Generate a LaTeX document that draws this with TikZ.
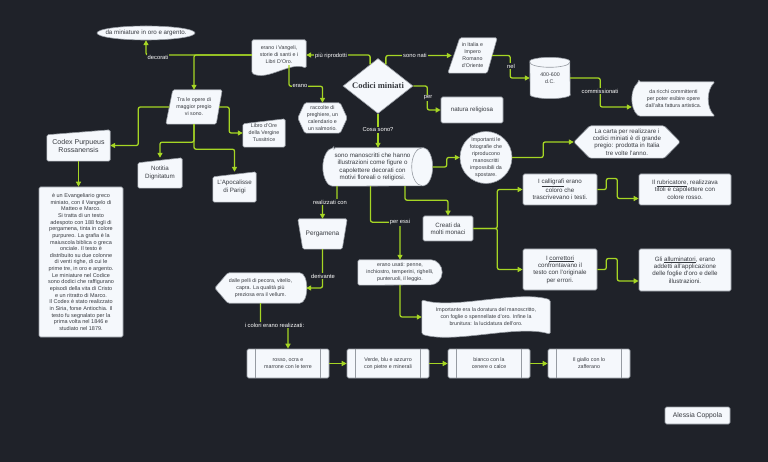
\documentclass[tikz,border=0pt]{standalone}
\usepackage{fontspec}
\setmainfont{Liberation Sans}
\newfontfamily\headfont{Liberation Serif}
\usetikzlibrary{arrows.meta,calc,shapes.geometric}
\definecolor{board}{RGB}{31,34,41}
\definecolor{paper}{RGB}{245,248,252}
\definecolor{rim}{RGB}{150,155,162}
\definecolor{ink}{RGB}{55,58,64}
\definecolor{wire}{RGB}{166,214,36}
\newcommand\boxfont{\fontsize{5.3}{7}\selectfont}
\newcommand\tagfont{\fontsize{5.8}{7}\selectfont}
\newcommand\namefont{\fontsize{6.2}{7.4}\selectfont}
\pgfdeclarelayer{bg}
\pgfdeclarelayer{shp}
\pgfsetlayers{bg,shp,main}
\tikzset{
  box/.style={draw=rim, fill=paper, rounded corners=1.5pt, line width=0.6pt,
              text=ink, font=\boxfont, align=center, inner sep=1pt},
  bare/.style={inner sep=0pt, text=ink, font=\boxfont, align=center},
  plate/.style={draw=rim, fill=paper, line width=0.6pt, rounded corners=1.5pt},
  flow/.style={-{Triangle[length=5pt,width=5pt]}, wire, line width=1.3pt, rounded corners=2pt},
  tag/.style={fill=board, text=white, inner sep=1pt, font=\tagfont},
}

\begin{document}
\begin{tikzpicture}[x=1pt,y=-1pt]
\useasboundingbox (0,0) rectangle (768,462);
\begin{pgfonlayer}{bg}
  \fill[board] (0,0) rectangle (768,462);
\end{pgfonlayer}

% centre and top row
\node[diamond, draw=rim, fill=paper, line width=0.6pt, aspect=1.3, minimum width=70pt,
      minimum height=55pt, inner sep=0pt, text=ink,
      font=\headfont\bfseries\fontsize{8.5}{10}\selectfont] (codici) at (378,86) {Codici miniati};
\node[bare, minimum width=98pt, minimum height=14pt, font=\namefont] (gold) at (146,33) {da miniature in oro e argento.};
\node[bare, minimum width=54pt, minimum height=30pt] (erano) at (279,55) {erano i Vangeli,\\ storie di santi e i\\ Libri D'Oro.};
\node[bare, minimum width=49pt, minimum height=30pt] (racc) at (322.5,118) {raccolte di\\ preghiere, un\\ calendario e\\ un salmorio.};
\node[bare, minimum width=49pt, minimum height=35pt] (italia) at (472.5,55.5) {in Italia e\\ Impero\\ Romano\\ d'Oriente};
\node[box, minimum width=62pt, minimum height=26pt, font=\namefont] (natura) at (472,110) {natura religiosa};
\node[bare, minimum width=40pt, minimum height=41pt] (cyl) at (550,78) {400-600\\ d.C.};
\node[bare, minimum width=83pt, minimum height=34pt] (ricchi) at (673.5,99) {da ricchi committenti\\ per poter esibire opere\\ dall'alta fattura artistica.};
\node[bare, minimum width=106pt, minimum height=32pt, font=\namefont] (carta) at (627,142) {La carta per realizzare i\\ codici miniati è di grande\\ pregio: prodotta in Italia\\ tre volte l'anno.};
\node[bare, minimum size=52pt] (foto) at (486,157.5) {Importanti le\\ fotografie che\\ riproducono\\ manoscritti\\ impossibili da\\ spostare.};
\node[bare, minimum width=99pt, minimum height=38pt, font=\namefont] (mano) at (372.5,167) {sono manoscritti che hanno\\ illustrazioni come figure o\\ capolettere decorati con\\ motivi floreali o religiosi.};

% left branch
\node[bare, minimum width=56pt, minimum height=34pt] (trale) at (194,107) {Tra le opere di\\ maggior pregio\\ vi sono.};
\node[bare, minimum width=63pt, minimum height=31pt, font=\fontsize{7}{8}\selectfont] (codex) at (78.5,145.5) {Codex Purpueus\\ Rossanensis};
\node[bare, minimum width=42pt, minimum height=28pt] (libro) at (264,133) {Libro d'Ore\\ della Vergine\\ Tussitrice};
\node[bare, minimum width=44pt, minimum height=30pt, font=\namefont] (notitia) at (160,173) {Notitia\\ Dignitatum};
\node[bare, minimum width=43pt, minimum height=30pt, font=\namefont] (apoc) at (234.5,187) {L'Apocalisse\\ di Parigi};
\node[box, minimum width=84pt, minimum height=150pt, font=\fontsize{5.5}{6.65}\selectfont] (desc) at (81,262)
  {è un Evangeliario greco\\ miniato, con il Vangelo di\\ Matteo e Marco.\\ Si tratta di un testo\\
   adespoto con 188 fogli di\\ pergamena, tinta in colore\\ purpureo. La grafia è la\\
   maiuscola biblica o greca\\ onciale. Il testo è\\ distribuito su due colonne\\
   di venti righe, di cui le\\ prime tre, in oro e argento.\\ Le miniature nel Codice\\
   sono dodici che raffigurano\\ episodi della vita di Cristo\\ e un ritratto di Marco.\\
   Il Codex è stato realizzato\\ in Siria, forse Antiochia. Il\\ testo fu segnalato per la\\
   prima volta nel 1846 e\\ studiato nel 1879.};

% lower part
\node[bare, minimum width=49pt, minimum height=30pt, font=\fontsize{6.5}{7.5}\selectfont] (perg) at (322.5,234) {Pergamena};
\node[bare, minimum width=91pt, minimum height=30pt] (pelli) at (260.5,288) {dalle pelli di pecora, vitello,\\ capra. La qualità più\\ preziosa era il vellum.};
\node[bare, minimum width=84pt, minimum height=25pt] (usati) at (400,272.5) {erano usati: penne,\\ inchiostro, temperini, righelli,\\ punteruoli, il leggio.};
\node[bare, minimum width=128pt, minimum height=34pt] (dor) at (486,317) {Importante era la doratura del manoscritto,\\ con foglie o spennellate d'oro. Infine la\\ brunitura: la lucidatura dell'oro.};
\node[box, minimum width=50pt, minimum height=25pt, font=\namefont] (creati) at (448,228.5) {Creati da\\ molti monaci};
\node[box, minimum width=74pt, minimum height=31pt, font=\namefont] (calli) at (560,189.5) {I \underline{calligrafi} erano\\ coloro che\\ trascrivevano i testi.};
\node[box, minimum width=92pt, minimum height=31pt, font=\namefont] (rubri) at (685,189.5) {Il \underline{rubricatore}, realizzava\\ titoli e capolettere con\\ colore rosso.};
\node[box, minimum width=74pt, minimum height=41pt, font=\namefont] (corr) at (560,269.5) {I \underline{correttori}\\ confrontavano il\\ testo con l'originale\\ per errori.};
\node[box, minimum width=92pt, minimum height=42pt, font=\namefont] (allum) at (685,270) {Gli \underline{alluminatori}, erano\\ addetti all'applicazione\\ delle foglie d'oro e delle\\ illustrazioni.};
\node[box, minimum width=82pt, minimum height=29pt] (rosso) at (288,363.5) {rosso, ocra e\\ marrone con le terre};
\node[box, minimum width=82pt, minimum height=29pt] (verde) at (388,363.5) {Verde, blu e azzurro\\ con pietre e minerali};
\node[box, minimum width=82pt, minimum height=29pt] (bianco) at (489,363.5) {bianco con la\\ cenere o calce};
\node[box, minimum width=82pt, minimum height=29pt] (giallo) at (589,363.5) {Il giallo con lo\\ zafferano};
\node[box, minimum width=65pt, minimum height=17pt, font=\fontsize{6.8}{8}\selectfont] (author) at (697.5,415.5) {Alessia Coppola};

% shapes behind the texts
\begin{pgfonlayer}{shp}
  \draw[plate] (gold.center) ellipse [x radius=49pt, y radius=7pt];
  \draw[plate] (erano.north west) -- (erano.north east) -- ($(erano.south east)+(0,-2)$)
    .. controls ($(erano.south east)+(-16,-9)$) and ($(erano.south west)+(16,11)$) .. ($(erano.south west)+(0,3)$) -- cycle;
  \foreach \n/\cut in {racc/7,carta/16}
    \draw[plate] (\n.west) -- ($(\n.north west)+(\cut,0)$) -- ($(\n.north east)+(-\cut,0)$) -- (\n.east)
      -- ($(\n.south east)+(-\cut,0)$) -- ($(\n.south west)+(\cut,0)$) -- cycle;
  \foreach \n in {codex,libro,notitia,apoc}
    \draw[plate] (\n.south west) -- (\n.south east) -- (\n.north east) -- ($(\n.north west)+(0,5)$) -- cycle;
  \draw[plate] (trale.south west) -- ($(trale.south east)+(-6,0)$) -- (trale.north east) -- ($(trale.north west)+(7,0)$) -- cycle;
  \draw[plate] (italia.south west) -- ($(italia.south east)+(-10,0)$) -- (italia.north east) -- ($(italia.north west)+(12,0)$) -- cycle;
  \draw[plate] (perg.north west) -- (perg.north east) -- ($(perg.south east)+(-5,0)$) -- ($(perg.south west)+(5,0)$) -- cycle;
  \draw[plate] ($(cyl.north west)+(0,5)$) arc[start angle=180, end angle=0, x radius=20pt, y radius=5pt]
    -- ($(cyl.south east)+(0,-5)$) arc[start angle=0, end angle=-180, x radius=20pt, y radius=5pt] -- cycle;
  \draw[rim, line width=0.6pt] ($(cyl.north west)+(0,5)$) arc[start angle=180, end angle=360, x radius=20pt, y radius=5pt];
  \draw[plate] ($(mano.north west)+(11,0)$) -- (mano.north east)
    arc[start angle=90, end angle=-90, x radius=10.5pt, y radius=19pt]
    -- ($(mano.south west)+(11,0)$) arc[start angle=270, end angle=90, x radius=11pt, y radius=19pt] -- cycle;
  \draw[rim, line width=0.6pt] (mano.north east) arc[start angle=90, end angle=270, x radius=10.5pt, y radius=19pt];
  \draw[plate] ($(ricchi.north west)+(7,0)$) -- (ricchi.north east)
    .. controls ($(ricchi.north east)+(-9,8)$) and ($(ricchi.south east)+(-9,-8)$) .. (ricchi.south east)
    -- ($(ricchi.south west)+(7,0)$)
    .. controls ($(ricchi.south west)+(-2,-8)$) and ($(ricchi.north west)+(-2,8)$) .. ($(ricchi.north west)+(7,0)$) -- cycle;
  \draw[plate] (foto.center) circle [radius=26pt];
  \draw[plate] (pelli.west) -- ($(pelli.north west)+(13,0)$) -- ($(pelli.north east)+(-8,0)$)
    .. controls ($(pelli.north east)+(3,0)$) and ($(pelli.south east)+(3,0)$) .. ($(pelli.south east)+(-8,0)$)
    -- ($(pelli.south west)+(13,0)$) -- cycle;
  \draw[plate] (usati.north west) -- ($(usati.north east)+(-12.5,0)$)
    arc[start angle=90, end angle=-90, radius=12.5pt] -- (usati.south west) -- cycle;
  \draw[plate] (dor.north west) .. controls ($(dor.north west)+(32,10)$) and ($(dor.north east)+(-32,-10)$) .. (dor.north east)
    -- (dor.south east) .. controls ($(dor.south east)+(-32,-10)$) and ($(dor.south west)+(32,10)$) .. (dor.south west) -- cycle;
\end{pgfonlayer}
\foreach \n in {rosso,verde,bianco,giallo} {
  \draw[rim, line width=0.6pt] ([xshift=9pt]\n.north west) -- ([xshift=9pt]\n.south west);
  \draw[rim, line width=0.6pt] ([xshift=-9pt]\n.north east) -- ([xshift=-9pt]\n.south east);
}

% connectors
\draw[flow] (erano.west) -| (gold.south);
\draw[flow] (erano.west) -| (trale.north);
\draw[flow] (codici.110) |- (erano.east);
\draw[flow] ($(erano.south)+(10,-5)$) -- ++(0,21) -| (racc.north);
\draw[flow] (codici.70) |- ($(italia.west)+(4,0)$);
\draw[flow] (codici.east) -- ++(14,0) |- (natura.west);
\draw[flow] (codici.south) -- (codici.south |- mano.north);
\draw[flow] ($(italia.east)+(-5,0)$) -- ++(18,0) |- (cyl.west);
\draw[flow] (cyl.east) -- ++(30,0) |- ($(ricchi.west)+(0,8)$);
\draw[flow] ($(mano.east)+(10.5,0)$) -- ++(14,0) |- (foto.west);
\draw[flow] (foto.east) -- ++(31,0) |- (carta.west);
\draw[flow] ($(mano.south)+(-35.5,0)$) -- ++(0,16) -| (perg.north);
\draw[flow] ($(mano.south)+(-2,0)$) -- ++(0,36) -| (usati.north);
\draw[flow] ($(mano.south)+(32.5,0)$) -- ++(0,14) -| (creati.north);
\draw[flow] (perg.south) |- (pelli.east);
\draw[flow] (pelli.south) -- ++(0,22) -| (rosso.north);
\draw[flow] (rosso.east) -- (verde.west);
\draw[flow] (verde.east) -- (bianco.west);
\draw[flow] (bianco.east) -- (giallo.west);
\draw[flow] (usati.south) |- (dor.west);
\draw[flow] (creati.east) -- ++(24,0) |- (calli.west);
\draw[flow] (creati.east) -- ++(24,0) |- (corr.west);
\draw[flow] (calli.east) -- ++(9,0) -- ++(0,-11) -- ++(11,0) |- ($(rubri.west)+(0,9)$);
\draw[flow] (corr.east) -- ++(9,0) -- ++(0,-11) -- ++(11,0) |- ($(allum.west)+(0,11)$);
\draw[flow] ($(trale.west)+(3.5,0)$) -- ++(-31,0) |- (codex.east);
\draw[flow] ($(trale.east)+(-3,0)$) -- ++(10,0) |- (libro.west);
\draw[flow] (trale.south) -- ++(0,18) -| (notitia.north);
\draw[flow] (trale.south) -- ++(0,25) -| (apoc.north);
\draw[flow] (codex.south) -- (codex.south |- desc.north);

% connector labels
\node[tag] (tdec) at (158,57) {decorati};
\node[tag] (tpiu) at (331,56) {più riprodotti};
\node[tag] (tera) at (300,86) {erano};
\node[tag] (tnati) at (415,55) {sono nati};
\node[tag] (tper) at (428,98) {per};
\node[tag] (tnel) at (511,66) {nel};
\node[tag] (tcomm) at (600,91) {commissionati};
\node[tag] (tcosa) at (378,130) {Cosa sono?};
\node[tag] (treal) at (330,202) {realizzati con};
\node[tag] (tessi) at (400,222) {per essi};
\node[tag] (tder) at (323,276) {derivante};
\node[tag] (tcol) at (274.5,325) {i colori erano realizzati:};
\end{tikzpicture}
\end{document}
